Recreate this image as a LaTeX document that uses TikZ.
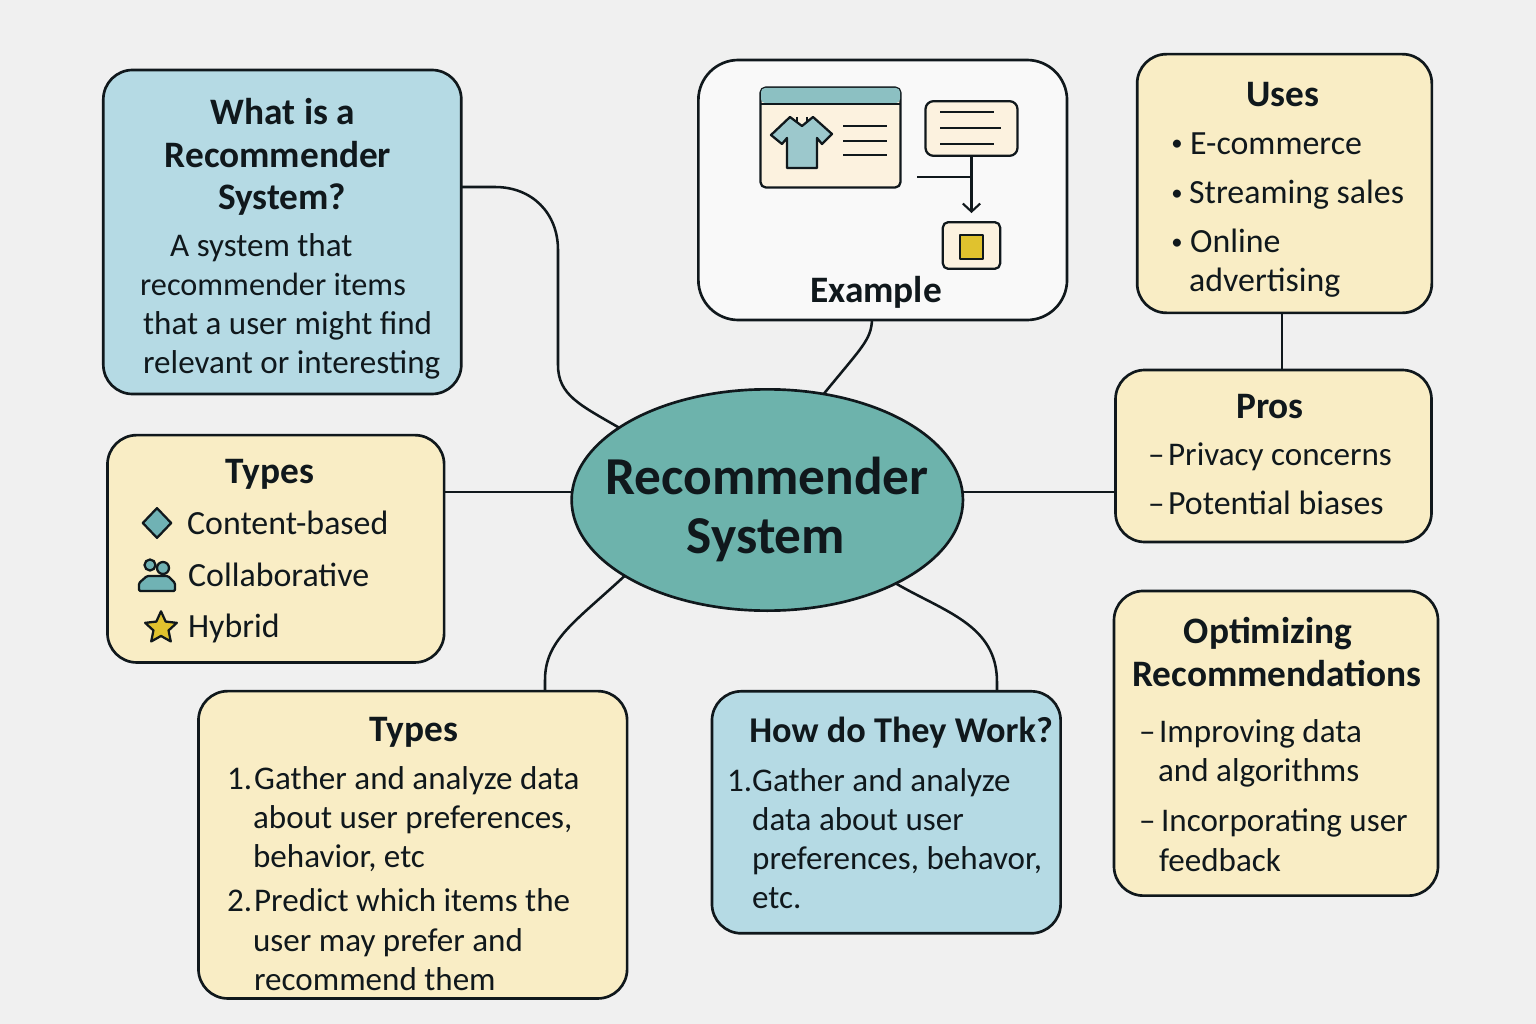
\documentclass[tikz,border=0pt]{standalone}
\usepackage{fontspec}
\setmainfont{Carlito}
\usetikzlibrary{arrows.meta,shapes.geometric}

\definecolor{pagegray}{HTML}{F0F0F0}
\definecolor{boxblue}{HTML}{B5DAE4}
\definecolor{boxcream}{HTML}{F9EDC5}
\definecolor{hubteal}{HTML}{6DB3AC}
\definecolor{inkblack}{HTML}{10181C}
\definecolor{iconteal}{HTML}{70B2B4}
\definecolor{iconblue}{HTML}{9CC8CC}
\definecolor{iconband}{HTML}{8CC0C2}
\definecolor{iconcream}{HTML}{FCF2DF}
\definecolor{icongold}{HTML}{E0C22E}

\tikzset{every picture/.style={line width=2pt},
  panel/.style={draw=inkblack,rounded corners=22pt,inner sep=0pt,outer sep=0pt},
  link/.style={draw=inkblack,line width=1.9pt},
  titletext/.style={anchor=base,inner sep=0pt,text=inkblack,font=\fontsize{28}{30}\selectfont\bfseries},
  bodytext/.style={anchor=base west,inner sep=0pt,xshift=-0.9pt,text=inkblack,font=\fontsize{24.8}{30}\selectfont},
  widetext/.style={bodytext,font=\fontsize{25.4}{30}\selectfont},
  dottext/.style={anchor=base west,inner sep=0pt,text=inkblack,font=\fontsize{17}{18}\selectfont},
  icon/.style={draw=inkblack,line width=1.7pt,line join=round},
  rule/.style={draw=inkblack,line width=1.4pt}}

\begin{document}
\begin{tikzpicture}[x=0.75pt,y=0.75pt,yscale=-1,xscale=1]
    \useasboundingbox (0,0) rectangle (1536,1024);
    \fill [pagegray] (0,0) rectangle (1536,1024);

    % Panels
    \node (what) [panel,fill=boxblue,minimum width=268.5pt,minimum height=243pt] at (282.3,232) {};
    \node (example) [panel,fill=white!60!pagegray,rounded corners=30pt,minimum width=276.5pt,minimum height=195pt] at (882.7,190) {};
    \node (uses) [panel,fill=boxcream,minimum width=221pt,minimum height=194pt] at (1284.5,183.5) {};
    \node (pros) [panel,fill=boxcream,minimum width=237pt,minimum height=129pt] at (1273.5,456) {};
    \node (typesa) [panel,fill=boxcream,minimum width=252.5pt,minimum height=170.5pt] at (275.8,548.8) {};
    \node (typesb) [panel,fill=boxcream,minimum width=321.5pt,minimum height=230.5pt] at (412.8,844.8) {};
    \node (how) [panel,fill=boxblue,minimum width=261.5pt,minimum height=181.5pt] at (886.3,812.3) {};
    \node (optim) [panel,fill=boxcream,minimum width=243pt,minimum height=228.5pt] at (1276,743.3) {};
    \node (hub) [draw=inkblack,fill=hubteal,ellipse,inner sep=0pt,outer sep=0pt,minimum width=293.5pt,minimum height=166pt] at (767.3,500) {};

    % Connector ends on the panels
    \coordinate (whatport) at (461,187);
    \coordinate (exampleport) at (872,320);
    \coordinate (usesport) at (1282,313);
    \coordinate (prostop) at (1282,370);
    \coordinate (prosport) at (1115,492);
    \coordinate (typesaport) at (444,492);
    \coordinate (typesbport) at (545,691);
    \coordinate (howport) at (997,691);

    % Connectors
    \draw [link] (whatport) -- (495,187) .. controls (532,187) and (558,213) .. (558,250) -- (558,365) .. controls (558,395) and (580,405) .. (hub.154.4);
    \draw [link] (exampleport) .. controls (871,340) and (862,347) .. (hub.62.4);
    \draw [link] (usesport) -- (prostop);
    \draw [link] (prosport -| hub.east) -- (prosport);
    \draw [link] (typesaport) -- (typesaport -| hub.west);
    \draw [link] (typesbport) -- (545,680) .. controls (545,640) and (575,622) .. (hub.208.6);
    \draw [link] (howport) -- (997,682) .. controls (997,625) and (945,612) .. (hub.327.6);

    % Example card: shop window
    \node (shopwindow) [icon,fill=iconcream,rounded corners=4pt,inner sep=0pt,minimum width=105pt,minimum height=75pt] at (830.5,137.5) {};
    \fill [iconband,rounded corners=3pt] (761,88) rectangle (900,103);
    \draw [icon] (760,104) -- (901,104);
    \draw [icon,fill=iconblue] (790,117) -- (771,135) -- (782,144) -- (787,138) -- (787,168) -- (817,168) -- (817,138) -- (822,144) -- (832,134) -- (813,117) -- (802,126) -- cycle;
    \draw [rule] (797,117) -- (797,122);
    \draw [rule] (807,117) -- (807,122);
    \foreach \liney in {126,141,155} {
      \draw [rule] (843,\liney) -- (887,\liney);
    }

    % Example card: message and result
    \node (message) [icon,fill=iconcream,rounded corners=6pt,inner sep=0pt,minimum width=69pt,minimum height=41pt] at (971.5,128.5) {};
    \draw [rule] (940,112) -- (994,112);
    \draw [rule] (940,128) -- (1001,128);
    \draw [rule] (940,144) -- (994,144);
    \node (result) [icon,fill=iconcream,rounded corners=4pt,inner sep=0pt,minimum width=43pt,minimum height=35pt] at (971.5,245.5) {};
    \node (resultmark) [icon,fill=icongold,inner sep=0pt,minimum width=17pt,minimum height=18pt] at (971.5,247) {};
    \coordinate (branchstart) at (917,177);
    \coordinate (branchend) at (971.5,177);
    \draw [inkblack,line width=1.6pt,shorten >=6pt,-{Straight Barb[length=6pt,width=13pt]}] (message) -- (result);
    \draw [inkblack,line width=1.6pt] (branchstart) -- (branchend);

    % Types icons
    \node (diamondicon) [icon,diamond,fill=iconteal,inner sep=0pt,minimum width=22pt,minimum height=23pt] at (157,523) {};
    \draw [icon,fill=iconteal] (150,565) circle [radius=5.5];
    \draw [icon,fill=iconteal] (163,568) circle [radius=6];
    \draw [icon,fill=iconteal,rounded corners=1pt] (139,591) -- (139,583) -- (147,576) -- (168,576) -- (175,583) -- (175,591) -- cycle;
    \node (staricon) [icon,star,star points=5,star point ratio=2.1,fill=icongold,inner sep=0pt,minimum size=25pt] at (161,628) {};

    % Text Node
    \node (whattitlea) [titletext] at (283,124) {What is a};
    \node (whattitleb) [titletext] at (278,167) {Recommender};
    \node (whattitlec) [titletext] at (282,209) {System?};
    \node (whatbodya) [bodytext] at (170,256) {A system that};
    \node (whatbodyb) [bodytext,font=\fontsize{24.2}{30}\selectfont] at (140,295) {recommender items};
    \node (whatbodyc) [bodytext] at (143,334) {that a user might find};
    \node (whatbodyd) [bodytext] at (143,373) {relevant or interesting};
    % Text Node
    \node (exampletitle) [titletext] at (876,302) {Example};
    % Text Node
    \node (usestitle) [titletext] at (1283,107) {Uses};
    \node (usesdota) [dottext] at (1170,151) {•};
    \node (usesa) [widetext] at (1190,154) {E-commerce};
    \node (usesdotb) [dottext] at (1170,200) {•};
    \node (usesb) [widetext] at (1189,203) {Streaming sales};
    \node (usesdotc) [dottext] at (1170,249) {•};
    \node (usesc) [widetext] at (1190,252) {Online};
    \node (usesd) [widetext] at (1189,291) {advertising};
    % Text Node
    \node (prostitle) [titletext] at (1270,418) {Pros};
    \node (prosdasha) [bodytext] at (1148,465) {–};
    \node (prosa) [bodytext] at (1168,465) {Privacy concerns};
    \node (prosdashb) [bodytext] at (1148,514) {–};
    \node (prosb) [widetext] at (1168,514) {Potential biases};
    % Text Node
    \node (typesatitle) [titletext] at (270,483) {Types};
    \node (typesaa) [widetext] at (187,534) {Content-based};
    \node (typesab) [widetext] at (188,586) {Collaborative};
    \node (typesac) [widetext] at (188,637) {Hybrid};
    % Text Node
    \node (typesbtitle) [titletext] at (414,741) {Types};
    \node (typesbnuma) [bodytext] at (227,789) {1.};
    \node (typesba) [bodytext] at (254,789) {Gather and analyze data};
    \node (typesbb) [bodytext] at (253,828) {about user preferences,};
    \node (typesbc) [bodytext] at (253,867) {behavior, etc};
    \node (typesbnumb) [bodytext] at (227,911) {2.};
    \node (typesbd) [bodytext] at (254,911) {Predict which items the};
    \node (typesbe) [bodytext] at (253,951) {user may prefer and};
    \node (typesbf) [bodytext] at (254,990) {recommend them};
    % Text Node
    \node (howtitle) [titletext,anchor=base west,font=\fontsize{27.2}{30}\selectfont\bfseries] at (748,742) {How do They Work?};
    \node (hownum) [bodytext] at (727,791) {1.};
    \node (howa) [bodytext] at (752,791) {Gather and analyze};
    \node (howb) [bodytext] at (752,830) {data about user};
    \node (howc) [bodytext] at (752,869) {preferences, behavor,};
    \node (howd) [bodytext] at (752,908) {etc.};
    % Text Node
    \node (optimtitlea) [titletext] at (1268,643) {Optimizing};
    \node (optimtitleb) [titletext] at (1277,686) {Recommendations};
    \node (optimdasha) [bodytext] at (1139,742) {–};
    \node (optima) [bodytext] at (1159,742) {Improving data};
    \node (optimb) [bodytext] at (1158,781) {and algorithms};
    \node (optimdashb) [bodytext] at (1139,831) {–};
    \node (optimc) [bodytext] at (1161,831) {Incorporating user};
    \node (optimd) [bodytext] at (1159,871) {feedback};
    % Text Node
    \node (hubtitlea) [titletext,font=\fontsize{40}{44}\selectfont\bfseries] at (767,494) {Recommender};
    \node (hubtitleb) [titletext,font=\fontsize{40}{44}\selectfont\bfseries] at (766,553) {System};
\end{tikzpicture}
\end{document}
